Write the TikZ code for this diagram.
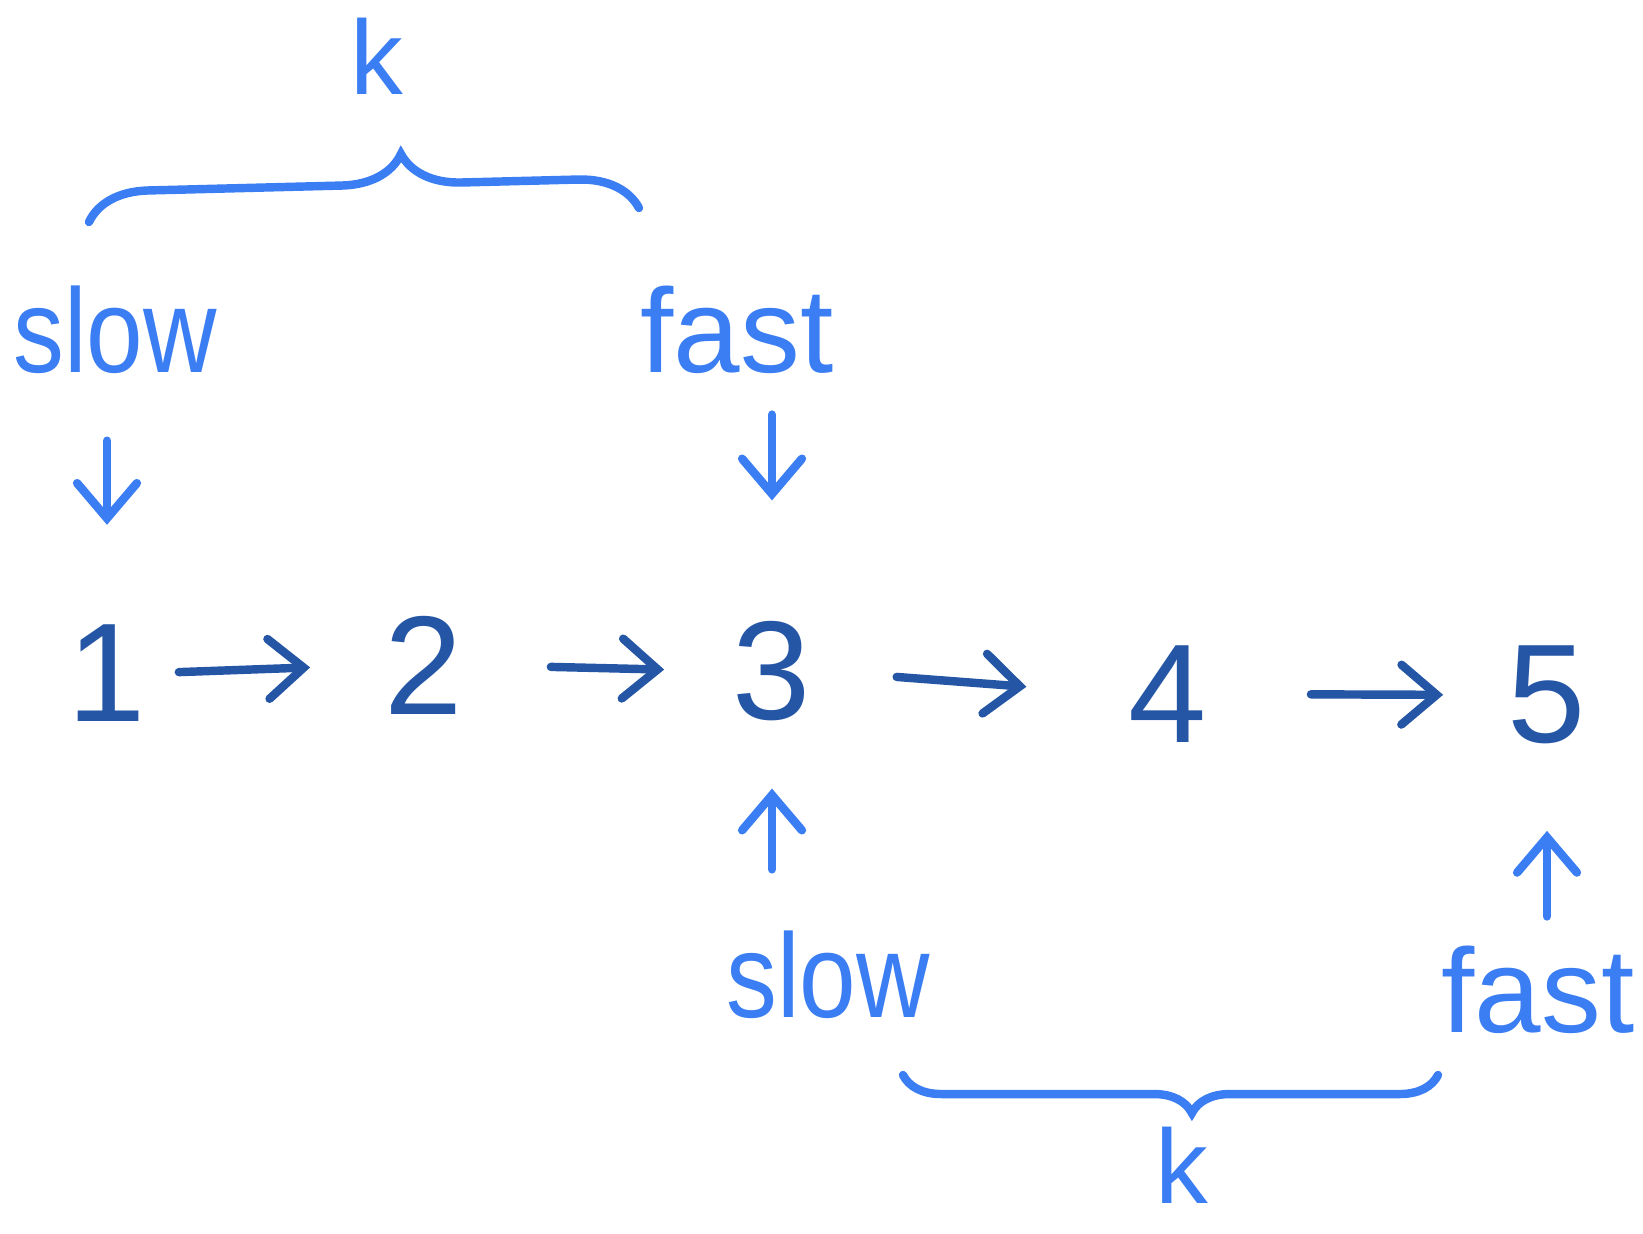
\documentclass[tikz,border=0pt]{standalone}
\usepackage{fontspec}
\setmainfont{Liberation Sans}
\usetikzlibrary{arrows.meta,decorations.pathreplacing}
\definecolor{lblue}{RGB}{59,125,242}
\definecolor{dblue}{RGB}{37,86,166}
\begin{document}
\begin{tikzpicture}[x=0.01cm,y=-0.01cm,
  lbl/.style={text=lblue,inner sep=2pt,xscale=0.85,transform shape,font=\fontsize{34}{40}\selectfont},
  flbl/.style={text=lblue,inner sep=2pt,font=\fontsize{34}{40}\selectfont},
  klbl/.style={text=lblue,inner sep=2pt,font=\fontsize{30}{36}\selectfont},
  num/.style={text=dblue,inner sep=2pt,font=\fontsize{40}{44}\selectfont},
  larr/.style={draw=lblue,line width=2.4pt,line cap=round,-{Straight Barb[length=10pt,width=17pt,line cap=round]}},
  darr/.style={draw=dblue,line width=2.4pt,line cap=round,-{Straight Barb[length=10pt,width=17pt,line cap=round]}},
  bracestyle/.style={draw=lblue,line width=2.4pt,line cap=round}]
\useasboundingbox (0,0) rectangle (1643,1233);
% numbers
\node[num] (n1) at (107,673) {1};
\node[num] (n2) at (424,665) {2};
\node[num] (n3) at (772,671) {3};
\node[num] (n4) at (1168,694) {4};
\node[num] (n5) at (1547,695) {5};
% labels
\node[lbl] (slowA) at (115,330) {slow};
\node[flbl] (fastA) at (737,330) {fast};
\node[klbl] (kA) at (377,56) {k};
\node[lbl] (slowB) at (828,975) {slow};
\node[flbl] (fastB) at (1538,990) {fast};
\node[klbl] (kB) at (1182,1165) {k};
% chain arrows
\draw[darr,shorten <=0.25cm,shorten >=0.67cm] (n1.east) -- (n2.west);
\draw[darr,shorten <=0.80cm,shorten >=0.61cm] (n2.east) -- (n3.west);
\draw[darr,shorten <=0.78cm,shorten >=0.95cm] (n3.east) -- (n4.west);
\draw[darr,shorten <=0.96cm,shorten >=0.57cm] (n4.east) -- (n5.west);
% pointer arrows
\draw[larr,shorten <=0.59cm,shorten >=0.92cm] (slowA.south -| n1.north) -- (n1.north);
\draw[larr,shorten <=0.33cm,shorten >=1.13cm] (fastA.south -| n3.north) -- (n3.north);
\draw[larr,shorten <=0.54cm,shorten >=0.60cm] (slowB.north -| n3.south) -- (n3.south);
\draw[larr,shorten <=0.22cm,shorten >=0.79cm] (fastB.north -| n5.south) -- (n5.south);
% braces
\draw[bracestyle,decorate,decoration={brace,amplitude=0.6cm,aspect=0.57}] (89,222) -- (639,208);
\draw[bracestyle,decorate,decoration={brace,amplitude=0.38cm,aspect=0.46}] (1438,1075) -- (903,1075);
\end{tikzpicture}
\end{document}
